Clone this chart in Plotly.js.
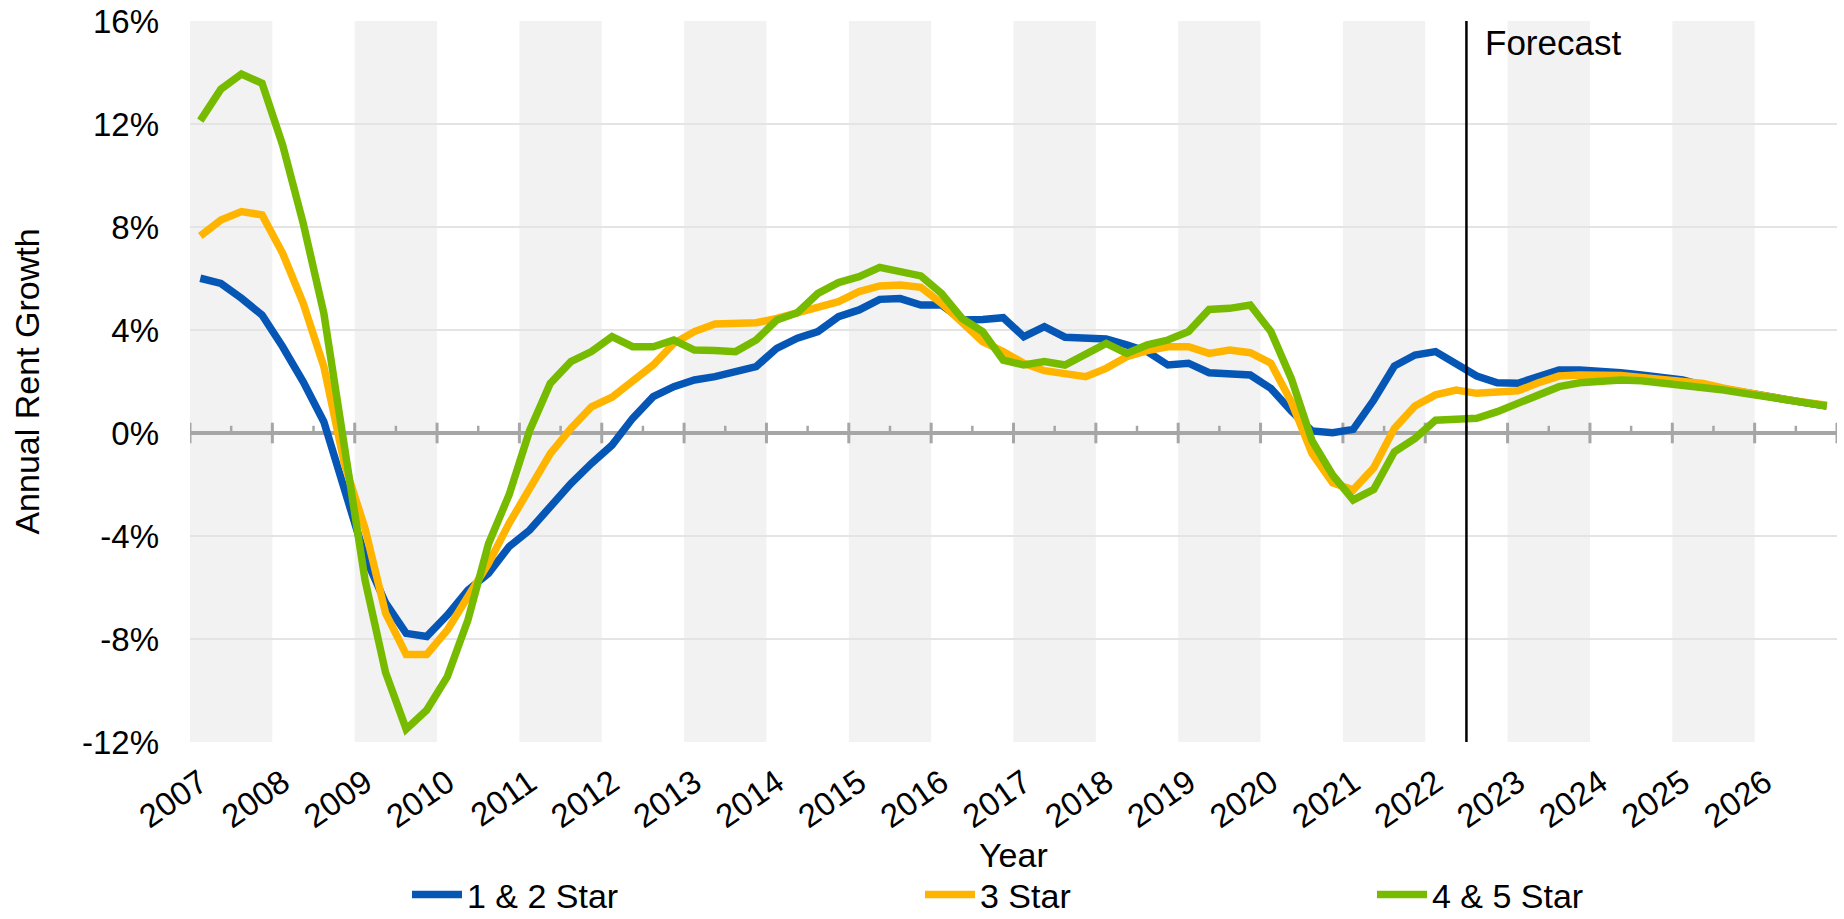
<!DOCTYPE html>
<html>
<head>
<meta charset="utf-8">
<script src="https://cdn.plot.ly/plotly-3.0.1.min.js"></script>
<style>
html,body{margin:0;padding:0;background:#ffffff;}
#chart{width:1844px;height:919px;}
</style>
</head>
<body>
<div id="chart"></div>
<script>
// ---- Data ----
const years = [2007,2008,2009,2010,2011,2012,2013,2014,2015,2016,2017,2018,2019,2020,2021,2022,2023,2024,2025,2026];
const quarters = [1,2,3,4];
const seriesNames = ['1 & 2 Star','3 Star','4 & 5 Star'];

const star12 = [
  6.01, 5.81, 5.23, 4.58, 3.35, 1.99, 0.44, -2.3, -4.8, -6.6,
  -7.78, -7.9, -7.07, -6.1, -5.45, -4.41, -3.77, -2.86, -1.96, -1.18,
  -0.47, 0.57, 1.41, 1.80, 2.06, 2.19, 2.42, 2.58, 3.29, 3.68,
  3.94, 4.52, 4.78, 5.19, 5.22, 4.97, 4.97, 4.39, 4.41, 4.48,
  3.74, 4.13, 3.72, 3.68, 3.65, 3.42, 3.16, 2.64, 2.71, 2.34,
  2.32, 2.25, 1.73, 0.85, 0.08, 0.01, 0.14, 1.28, 2.60, 3.03,
  3.16, 2.71, 2.21, 1.95, 1.93, 2.19, 2.45, 2.45, 2.42, 2.34,
  2.25, 2.16, 2.06, 1.85, 1.70, 1.55, 1.41, 1.28, 1.17, 1.05
];
const star3 = [
  7.65, 8.27, 8.60, 8.47, 6.98, 5.04, 2.58, -1.2, -3.7, -7.0,
  -8.6, -8.6, -7.65, -6.36, -5.06, -3.51, -2.09, -0.8, 0.18, 1.02,
  1.39, 1.99, 2.64, 3.48, 3.94, 4.23, 4.28, 4.28, 4.45, 4.65,
  4.88, 5.10, 5.49, 5.71, 5.75, 5.66, 5.04, 4.28, 3.55, 3.16,
  2.71, 2.42, 2.29, 2.19, 2.51, 2.96, 3.20, 3.35, 3.35, 3.09,
  3.22, 3.12, 2.71, 1.2, -0.79, -1.94, -2.21, -1.35, 0.18, 1.05,
  1.48, 1.67, 1.54, 1.57, 1.64, 1.95, 2.21, 2.25, 2.25, 2.23,
  2.16, 2.08, 2.03, 1.92, 1.74, 1.58, 1.43, 1.30, 1.19, 1.08
];
const star45 = [
  12.13, 13.35, 13.94, 13.58, 11.18, 8.14, 4.65, -0.3, -5.7, -9.3,
  -11.5, -10.76, -9.46, -7.26, -4.3, -2.4, 0.1, 1.93, 2.77, 3.16,
  3.74, 3.35, 3.35, 3.61, 3.22, 3.20, 3.16, 3.61, 4.39, 4.67,
  5.42, 5.84, 6.07, 6.43, 6.30, 6.10, 5.42, 4.45, 3.94, 2.83,
  2.64, 2.77, 2.64, 3.03, 3.48, 3.09, 3.42, 3.61, 3.94, 4.80,
  4.84, 4.97, 3.94, 2.1, -0.3, -1.63, -2.6, -2.19, -0.73, -0.21,
  0.50, 0.53, 0.57, 0.83, 1.15, 1.54, 1.80, 1.95, 2.02, 2.06,
  2.03, 1.95, 1.90, 1.80, 1.67, 1.54, 1.41, 1.28, 1.18, 1.05
];
const yTicks = [-12, -8, -4, 0, 4, 8, 12, 16];
const forecastStart = 2022.5;
const forecastLabel = 'Forecast';
const xTitle = 'Year';
const yTitle = 'Annual Rent Growth';

// ---- Build ----
const xq = [];
years.forEach(y => quarters.forEach(q => xq.push(y + (q - 0.5) / 4)));

const colors = ['#0657B5', '#FFB500', '#77BB00'];
const series = [star12, star3, star45];
const legendIds = ['legend', 'legend2', 'legend3'];

const traces = series.map((s, k) => ({
  x: xq, y: s, type: 'scatter', mode: 'lines', name: seriesNames[k],
  line: {color: colors[k], width: 7.5, shape: 'linear'},
  legend: legendIds[k], hoverinfo: 'skip'
}));

const shapes = [];
// alternating year bands
years.forEach((y, i) => {
  if (i % 2 === 0) {
    shapes.push({type: 'rect', xref: 'x', yref: 'paper', x0: y, x1: y + 1, y0: 0, y1: 1,
      fillcolor: '#F2F2F2', line: {width: 0}, layer: 'below'});
  }
});
// tick marks on zero axis (major crossing at year boundaries, minor up at mid-year)
const tickColor = '#A6A6A6';
years.concat([years[years.length - 1] + 1]).forEach(y => {
  shapes.push({type: 'line', xref: 'x', yref: 'y', x0: y, x1: y, y0: -0.4, y1: 0.4,
    line: {color: tickColor, width: 3}, layer: 'between'});
});
years.forEach(y => {
  shapes.push({type: 'line', xref: 'x', yref: 'y', x0: y + 0.5, x1: y + 0.5, y0: 0, y1: 0.28,
    line: {color: tickColor, width: 2.5}, layer: 'between'});
});
// forecast divider
shapes.push({type: 'line', xref: 'x', yref: 'paper', x0: forecastStart, x1: forecastStart, y0: 0, y1: 1,
  line: {color: '#000000', width: 2.5}, layer: 'above'});

const W = 1844, H = 919;
const legendCommon = {orientation: 'h', xref: 'container', yref: 'container',
  xanchor: 'left', yanchor: 'middle', y: (H - 895) / H,
  font: {size: 34, color: '#000'}, bgcolor: 'rgba(0,0,0,0)', itemwidth: 50, borderwidth: 0};

const layout = {
  width: W, height: H,
  margin: {l: 190, r: 7, t: 21, b: 177, pad: 0, autoexpand: false},
  paper_bgcolor: '#ffffff', plot_bgcolor: '#ffffff',
  font: {family: '"Liberation Sans", Arial, sans-serif', color: '#000000', size: 32},
  showlegend: true,
  xaxis: {
    range: [years[0], years[years.length - 1] + 1],
    tickvals: years.map(y => y + 0.125), ticktext: years.map(String),
    tickangle: -35, ticks: '', ticklabelstandoff: 14,
    showgrid: false, zeroline: false, showline: false,
    tickfont: {size: 33, color: '#000'},
    fixedrange: true
  },
  yaxis: {
    range: [-12, 16], tickvals: yTicks, ticktext: yTicks.map(v => v + '%'),
    ticks: '', ticklabelstandoff: 30,
    showgrid: true, gridcolor: '#E4E4E4', gridwidth: 2,
    zeroline: true, zerolinecolor: tickColor, zerolinewidth: 3.5,
    showline: false, tickfont: {size: 33, color: '#000'},
    title: {text: yTitle, font: {size: 34, color: '#000'}, standoff: 32},
    fixedrange: true
  },
  legend: Object.assign({}, legendCommon, {x: 407 / W}),
  legend2: Object.assign({}, legendCommon, {x: 920 / W}),
  legend3: Object.assign({}, legendCommon, {x: 1372 / W}),
  shapes: shapes,
  annotations: [{
    text: forecastLabel, xref: 'x', yref: 'paper', x: forecastStart, y: 0.97,
    xanchor: 'left', yanchor: 'middle', xshift: 17, showarrow: false,
    font: {size: 35, color: '#000'}
  }, {
    text: xTitle, xref: 'paper', yref: 'paper', x: 0.5, y: -0.157,
    xanchor: 'center', yanchor: 'middle', showarrow: false,
    font: {size: 34, color: '#000'}
  }]
};

Plotly.newPlot('chart', traces, layout, {displayModeBar: false, staticPlot: true});
</script>
</body>
</html>
